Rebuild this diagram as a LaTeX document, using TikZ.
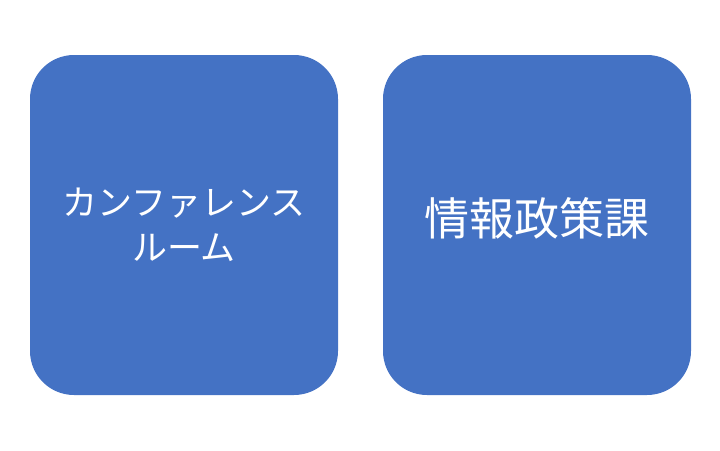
\documentclass[tikz,border=0pt]{standalone}
\usepackage{fontspec}
\usepackage{xcolor}
\usepackage{tikz}
\usetikzlibrary{positioning}
\newfontfamily\jpfont{Noto Sans CJK JP}
\definecolor{C_BOX}{HTML}{4472C4}
\tikzset{
  %% -- room box --
  room/box/.style={
    fill=C_BOX, draw=none, rounded corners=44pt,
    minimum width=308pt, minimum height=340pt,
    align=center, text=white, inner sep=0pt
  },
  %% -- room label --
  room/lbl/.style={text=white, align=center, inner sep=0pt},
}
\begin{document}
\begin{tikzpicture}[x=1pt, y=-1pt]
%% ── Canvas (720 x 450) ───────────────────────────────────────
\useasboundingbox (0,0) rectangle (720,450);

%% ── Boxes ────────────────────────────────────────────────────
\node[room/box] (conf) at (184,225) {};
\node[room/box] (info) at (537,225) {};

%% ── Labels ───────────────────────────────────────────────────
\node[room/lbl, font=\jpfont\fontsize{35pt}{45pt}\selectfont]
  (confLbl) at (184,225) {カンファレンス\\ルーム};
\node[room/lbl, font=\jpfont\fontsize{45pt}{50pt}\selectfont]
  (infoLbl) at (537,218) {情報政策課};

\end{tikzpicture}
\end{document}
